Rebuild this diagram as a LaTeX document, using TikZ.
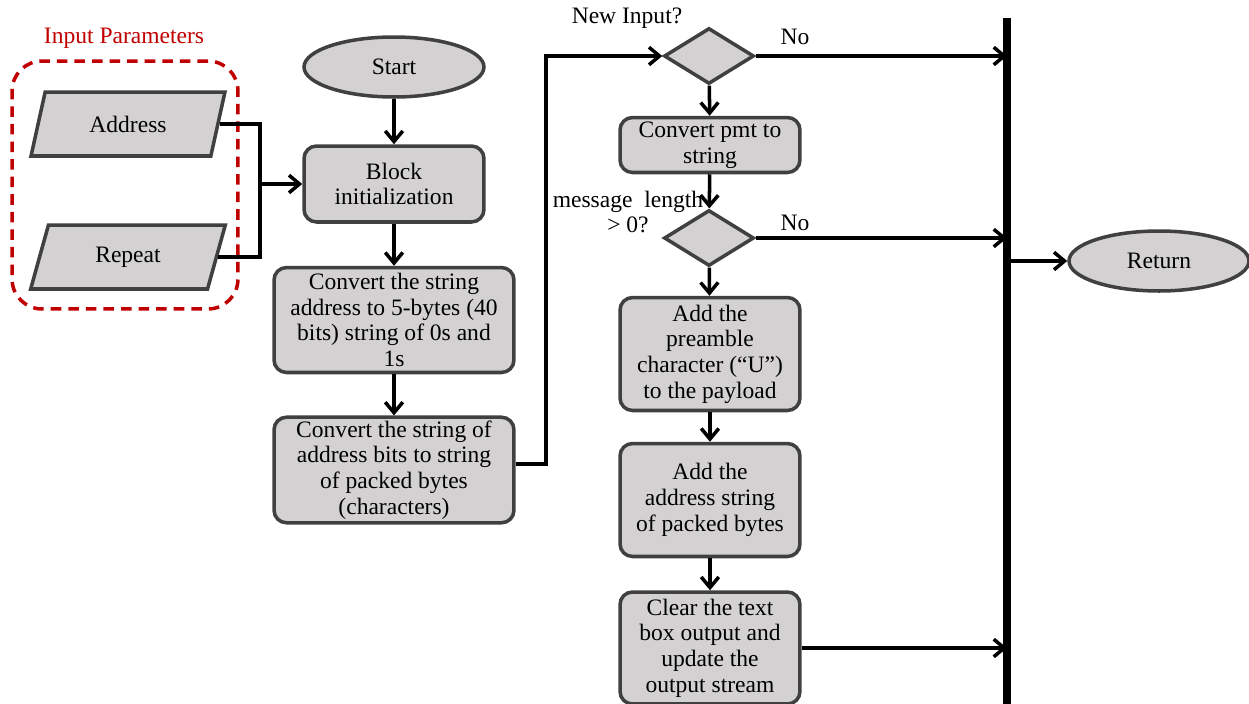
\documentclass[tikz,border=0pt]{standalone}
\usepackage{fontspec}
\setmainfont{Liberation Serif}
\usetikzlibrary{shapes.geometric,arrows.meta,positioning}

\definecolor{boxfill}{RGB}{211,209,210}
\definecolor{boxline}{RGB}{64,64,64}
\definecolor{paramred}{RGB}{192,0,0}

\tikzset{
  flowbox/.style={draw=boxline, fill=boxfill, line width=2pt, rounded corners=0.25cm, align=center, inner sep=2pt},
  term/.style={draw=boxline, fill=boxfill, line width=2pt, ellipse, minimum width=3.6cm, minimum height=1.2cm, inner sep=0pt},
  decide/.style={draw=boxline, fill=boxfill, line width=2pt, diamond, minimum width=1.8cm, minimum height=1.12cm, inner sep=0pt},
  inbox/.style={draw=boxline, fill=boxfill, line width=2pt, trapezium, trapezium left angle=75, trapezium right angle=105, trapezium stretches=true, minimum width=3.9cm, minimum height=1.28cm},
  flow/.style={-{Straight Barb[length=6pt,width=10pt]}, line width=2pt},
}

\begin{document}
\begin{tikzpicture}[x=0.02cm, y=-0.02cm, font=\fontsize{13.4}{14.6}\selectfont]
    \useasboundingbox (0,0) rectangle (1249,704);

    % input parameters
    \node [text=paramred] (ptitle) at (124,38) {Input Parameters};
    \node [draw=paramred, line width=2pt, dash pattern=on 6pt off 4pt, rounded corners=0.6cm, minimum width=4.52cm, minimum height=4.96cm] (pbox) at (125,185) {};
    \node [inbox] (addr) at (128,124) {Address};
    \node [inbox] (rep) at (128,257) {Repeat};

    % left column
    \node [term] (start) at (394,67) {Start};
    \node [flowbox, minimum width=3.6cm, minimum height=1.52cm] (init) at (394,184) {Block\\initialization};
    \node [flowbox, minimum width=4.8cm, minimum height=2.1cm] (conv1) at (394,320) {Convert the string\\address to 5-bytes (40\\bits) string of 0s and\\1s};
    \node [flowbox, minimum width=4.8cm, minimum height=2.06cm] (conv2) at (394,470) {Convert the string of\\address bits to string\\of packed bytes\\(characters)};

    % right column
    \node [decide] (newin) at (709,56) {};
    \node (newlbl) at (627,18) {New Input?};
    \node (no1) at (795,37) {No};
    \node [flowbox, minimum width=3.6cm, minimum height=1.1cm] (pmt) at (710,145) {Convert pmt to\\string};
    \node [decide] (msglen) at (709,238) {};
    \node [align=center] (msglbl) at (628,212) {message\ \ length\\> 0?};
    \node (no2) at (795,223) {No};
    \node [flowbox, minimum width=3.6cm, minimum height=2.26cm] (pre) at (710,354) {Add the\\preamble\\character (“U”)\\to the payload};
    \node [flowbox, minimum width=3.6cm, minimum height=2.26cm] (addstr) at (710,500) {Add the\\address string\\of packed bytes};
    \node [flowbox, minimum width=3.6cm, minimum height=2.24cm] (clear) at (710,648) {Clear the text\\box output and\\update the\\output stream};

    \node [term] (ret) at (1159,261) {Return};

    \coordinate (join) at (260,184);
    \coordinate (loopup) at (546,464);
    \coordinate (bartop) at (1007,18);
    \coordinate (barbot) at (1007,704);
    \coordinate (retout) at (1007,261);

    % connectors
    \draw [line width=2pt] (addr.east) -| (join);
    \draw [line width=2pt] (rep.east) -| (join);
    \draw [flow] (join) -- (init.west);
    \draw [flow] (start) -- (init);
    \draw [flow] (init) -- (conv1);
    \draw [flow] (conv1) -- (conv2);
    \draw [flow] (conv2.east |- loopup) -- (loopup) |- (newin.west);
    \draw [flow] (newin) -- (pmt);
    \draw [flow] (pmt) -- (msglen);
    \draw [flow] (msglen) -- (pre);
    \draw [flow] (pre) -- (addstr);
    \draw [flow] (addstr) -- (clear);
    \draw [flow] (newin.east) -- (newin.east -| bartop);
    \draw [flow] (msglen.east) -- (msglen.east -| bartop);
    \draw [flow] (clear.east) -- (clear.east -| bartop);
    \draw [line width=4pt] (bartop) -- (barbot);
    \draw [flow] (retout) -- (ret.west);
\end{tikzpicture}
\end{document}
